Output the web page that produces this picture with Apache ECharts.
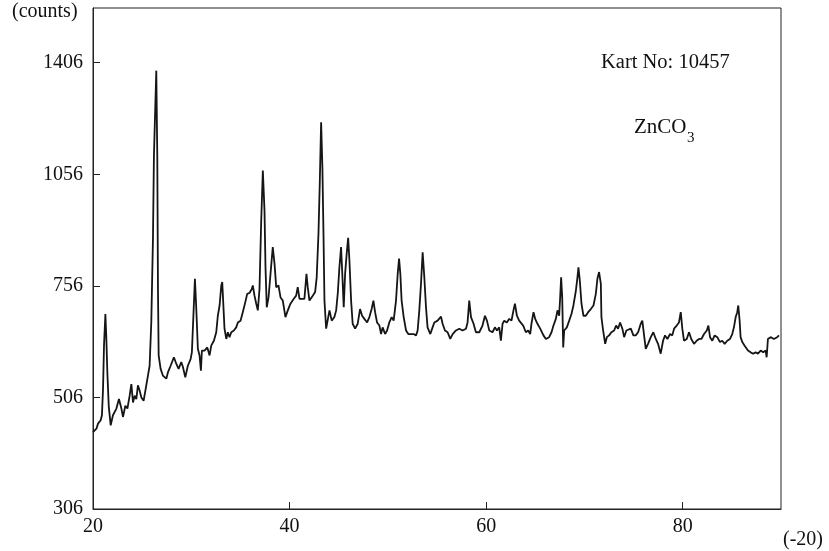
<!DOCTYPE html>
<html>
<head>
<meta charset="utf-8">
<script src="https://cdn.jsdelivr.net/npm/echarts@6/dist/echarts.min.js"></script>
<style>
  html, body { margin: 0; padding: 0; background: #fff; }
  #chart { width: 829px; height: 551px; }
</style>
</head>
<body>
<div id="chart"></div>
<script>
// Tick labels (the y axis of the original is spaced evenly but labelled unevenly)
const yTickLabels = [306, 506, 756, 1056, 1406];
const xTickLabels = [20, 40, 60, 80];

// 2θ positions
const twoTheta = [
  20.00,20.35,20.51,20.78,20.91,21.02,21.12,21.26,21.36,21.46,21.60,21.80,22.03,22.38,22.64,22.89,23.05,23.29,23.50,23.73,
  23.90,24.07,24.24,24.41,24.57,24.75,24.92,25.15,25.36,25.59,25.76,25.93,26.10,26.20,26.34,26.44,26.54,26.61,26.68,26.88,
  27.11,27.29,27.46,27.62,27.90,28.23,28.48,28.71,28.98,29.15,29.39,29.65,29.93,30.06,30.23,30.37,30.51,30.67,30.84,30.98,
  31.08,31.35,31.63,31.86,32.03,32.30,32.54,32.70,32.88,33.05,33.15,33.25,33.38,33.56,33.72,33.89,34.07,34.33,34.57,34.74,
  35.01,35.24,35.49,35.69,35.92,36.16,36.26,36.43,36.61,36.77,36.94,37.11,37.28,
  37.45,37.55,37.68,37.86,38.06,38.29,38.47,38.64,38.87,39.08,39.31,39.58,39.82,40.09,40.43,40.67,40.83,41.01,41.24,41.51,
  41.72,41.85,42.02,42.20,42.36,42.60,42.76,42.94,43.07,43.21,43.34,43.45,43.55,43.72,43.88,44.06,44.29,44.56,44.74,44.90,
  45.07,45.24,45.38,45.51,45.65,45.81,45.96,46.09,46.26,46.42,46.67,46.93,47.17,47.38,47.61,47.89,48.12,48.35,48.53,48.70,
  48.90,49.14,49.31,49.47,49.72,49.92,50.15,50.39,50.59,50.83,51.00,51.14,51.27,51.40,51.61,51.85,52.08,52.36,52.62,52.87,
  53.03,53.20,53.37,53.54,53.71,53.88,54.04,54.32,54.55,54.73,
  55.06,55.41,55.57,55.81,56.08,56.35,56.59,56.93,57.27,57.60,57.95,58.11,58.28,58.46,58.72,58.96,59.30,59.63,59.88,60.08,
  60.32,60.49,60.65,60.89,61.10,61.33,61.50,61.67,61.84,62.11,62.35,62.58,62.78,62.93,63.13,63.36,63.54,63.77,64.04,64.28,
  64.48,64.61,64.82,64.99,65.22,65.50,65.83,66.08,66.41,66.65,66.85,67.09,67.26,67.43,67.53,67.63,67.74,67.84,67.94,68.21,
  68.45,68.68,68.88,69.13,69.29,69.39,69.53,69.70,69.90,70.14,70.38,70.65,70.92,71.16,71.32,71.49,71.67,
  71.73,71.90,72.11,72.28,72.51,72.74,73.02,73.22,73.42,73.63,73.86,74.04,74.27,74.47,74.72,74.98,75.22,75.46,75.73,75.89,
  76.07,76.24,76.47,76.75,77.01,77.26,77.49,77.76,78.00,78.20,78.44,78.71,78.94,79.12,79.39,79.62,79.80,79.96,80.13,80.41,
  80.64,80.87,81.15,81.42,81.66,81.90,82.17,82.45,82.61,82.78,83.01,83.25,83.52,83.79,84.02,84.27,84.53,84.81,85.04,85.21,
  85.39,85.55,85.65,85.79,85.89,86.06,86.30,86.50,86.64,86.91,87.17,87.42,87.65,87.93,88.19,88.44,88.54,88.67,88.94,89.28,
  89.61,89.79
];

// Intensity (counts)
const counts = [
  444,450,459,465,474,525,622,693,637,562,491,456,474,486,503,486,471,491,486,510,
  536,497,510,503,533,521,506,500,525,555,577,674,882,1115,1271,1381,1115,749,600,570,
  555,551,548,562,577,596,581,570,585,574,551,577,592,607,697,775,704,615,600,566,
  611,611,618,600,622,633,652,689,712,757,766,719,660,637,652,641,652,656,663,674,
  678,697,719,738,740,749,757,734,716,701,749,927,1068,
  958,806,708,730,788,860,815,753,757,730,723,686,701,716,727,734,753,727,727,727,
  788,753,723,719,734,742,779,896,1030,1219,1078,896,723,660,663,701,678,686,701,738,
  806,860,779,708,788,842,885,824,723,671,660,671,704,689,682,674,686,704,723,697,
  674,667,648,663,648,656,674,686,678,723,788,829,788,723,686,656,648,648,648,645,
  656,701,761,846,779,708,663,648,663,674,
  678,687,671,656,652,637,648,656,660,656,660,674,723,686,671,652,652,667,689,678,
  656,660,652,663,656,663,633,671,678,674,682,678,701,716,689,678,682,667,652,656,
  648,671,697,682,671,660,645,637,641,652,667,682,701,689,730,779,730,618,656,663,
  678,693,712,745,779,806,770,716,689,689,697,704,712,738,775,793,761,
  686,656,626,641,645,652,656,667,660,674,660,641,656,652,660,645,645,652,671,678,
  645,615,626,641,652,637,626,604,633,645,637,648,645,660,667,674,697,660,633,637,
  652,637,626,633,637,637,648,656,667,641,633,645,641,630,633,626,633,637,648,663,
  686,697,712,678,641,630,622,626,611,607,604,607,604,611,607,611,596,637,641,637,
  641,645
];

// Map counts onto the evenly spaced tick positions (piecewise linear between labelled ticks)
function countsToPos(c) {
  const t = yTickLabels;
  for (let i = 0; i < t.length - 1; i++) {
    if (c <= t[i + 1] || i === t.length - 2) {
      return i + (c - t[i]) / (t[i + 1] - t[i]);
    }
  }
  return 0;
}

const n = Math.min(twoTheta.length, counts.length);
const seriesData = [];
for (let i = 0; i < n; i++) seriesData.push([twoTheta[i], countsToPos(counts[i])]);

const FONT = "'Liberation Serif', 'Times New Roman', serif";
const chart = echarts.init(document.getElementById('chart'), null, { renderer: 'canvas' });

chart.setOption({
  animation: false,
  backgroundColor: '#ffffff',
  grid: { left: 93, right: 48, top: 8, bottom: 42, show: true, borderColor: '#222', borderWidth: 1, backgroundColor: 'transparent' },
  xAxis: {
    type: 'value', min: 20, max: 90, interval: 20,
    axisLine: { show: true, lineStyle: { color: '#222', width: 1 } },
    axisTick: { show: true, inside: true, length: 7, lineStyle: { color: '#222' }, customValues: xTickLabels },
    axisLabel: { color: '#111', fontFamily: FONT, fontSize: 20, margin: 8, customValues: xTickLabels,
      formatter: v => (xTickLabels.indexOf(v) >= 0 ? String(v) : '') },
    splitLine: { show: false }
  },
  yAxis: {
    type: 'value', min: 0, max: 4.49, interval: 1,
    axisLine: { show: true, lineStyle: { color: '#222', width: 1 } },
    axisTick: { show: true, inside: true, length: 7, lineStyle: { color: '#222' }, customValues: [0, 1, 2, 3, 4] },
    axisLabel: { color: '#111', fontFamily: FONT, fontSize: 20, margin: 10, customValues: [0, 1, 2, 3, 4],
      formatter: v => { const i = Math.round(v); return Math.abs(v - i) < 1e-6 && i < yTickLabels.length ? String(yTickLabels[i]) : ''; } },
    splitLine: { show: false }
  },
  series: [{
    type: 'line',
    data: seriesData,
    showSymbol: false,
    lineStyle: { color: '#151515', width: 1.8 },
    z: 3
  }],
  graphic: [
    { type: 'text', left: 12, top: 2, style: { text: '(counts)', font: "20px " + FONT, fill: '#111' } },
    { type: 'text', left: 783, top: 530, style: { text: '(-20)', font: "20px " + FONT, fill: '#111' } },
    { type: 'text', left: 601, top: 52, style: { text: 'Kart No: 10457', font: "20.5px " + FONT, fill: '#111' } },
    { type: 'text', left: 634, top: 117, style: { text: 'ZnCO', font: "21px " + FONT, fill: '#111' } },
    { type: 'text', left: 687, top: 131, style: { text: '3', font: "15px " + FONT, fill: '#111' } }
  ]
});
</script>
</body>
</html>
